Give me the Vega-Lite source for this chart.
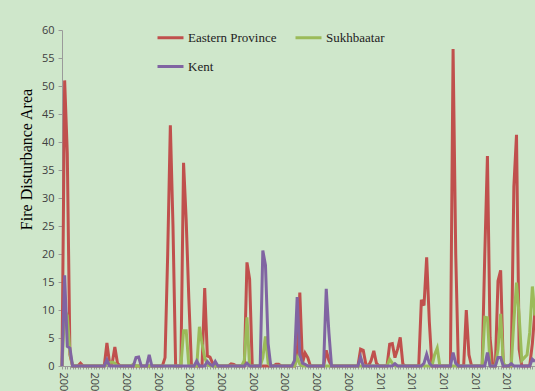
{
"$schema": "https://vega.github.io/schema/vega-lite/v6.json",
"width": 473, "height": 336,
"autosize": {"type": "none"},
"padding": {"left": 62, "top": 30, "right": 0, "bottom": 40},
"background": "#cfe7cb",
"config": {"view": {"stroke": null}},
"datasets": {
"ep": [
{"m":"2000-01","v":0},{"m":"2000-02","v":51},{"m":"2000-03","v":38},{"m":"2000-04","v":2},{"m":"2000-05","v":0},{"m":"2000-06","v":0},{"m":"2000-07","v":0},{"m":"2000-08","v":0.5},{"m":"2000-09","v":0},{"m":"2000-10","v":0},{"m":"2000-11","v":0},{"m":"2000-12","v":0},
{"m":"2001-01","v":0},{"m":"2001-02","v":0},{"m":"2001-03","v":0},{"m":"2001-04","v":0},{"m":"2001-05","v":0},{"m":"2001-06","v":4.1},{"m":"2001-07","v":0.5},{"m":"2001-08","v":0.5},{"m":"2001-09","v":3.4},{"m":"2001-10","v":0.5},{"m":"2001-11","v":0},{"m":"2001-12","v":0},
{"m":"2002-01","v":0},{"m":"2002-02","v":0},{"m":"2002-03","v":0},{"m":"2002-04","v":0},{"m":"2002-05","v":0},{"m":"2002-06","v":0},{"m":"2002-07","v":0},{"m":"2002-08","v":0},{"m":"2002-09","v":0},{"m":"2002-10","v":0},{"m":"2002-11","v":0},{"m":"2002-12","v":0},
{"m":"2003-01","v":0},{"m":"2003-02","v":0},{"m":"2003-03","v":0},{"m":"2003-04","v":1.5},{"m":"2003-05","v":20},{"m":"2003-06","v":43},{"m":"2003-07","v":25},{"m":"2003-08","v":0},{"m":"2003-09","v":0},{"m":"2003-10","v":0},{"m":"2003-11","v":36.3},{"m":"2003-12","v":26},
{"m":"2004-01","v":12},{"m":"2004-02","v":0},{"m":"2004-03","v":0},{"m":"2004-04","v":0},{"m":"2004-05","v":0},{"m":"2004-06","v":0},{"m":"2004-07","v":13.9},{"m":"2004-08","v":1.8},{"m":"2004-09","v":1.6},{"m":"2004-10","v":0.5},{"m":"2004-11","v":0},{"m":"2004-12","v":0},
{"m":"2005-01","v":0},{"m":"2005-02","v":0},{"m":"2005-03","v":0},{"m":"2005-04","v":0},{"m":"2005-05","v":0.4},{"m":"2005-06","v":0.3},{"m":"2005-07","v":0},{"m":"2005-08","v":0},{"m":"2005-09","v":0},{"m":"2005-10","v":0},{"m":"2005-11","v":18.5},{"m":"2005-12","v":15.5},
{"m":"2006-01","v":0},{"m":"2006-02","v":0},{"m":"2006-03","v":0},{"m":"2006-04","v":0},{"m":"2006-05","v":0},{"m":"2006-06","v":0},{"m":"2006-07","v":0},{"m":"2006-08","v":0},{"m":"2006-09","v":0},{"m":"2006-10","v":0.3},{"m":"2006-11","v":0.3},{"m":"2006-12","v":0},
{"m":"2007-01","v":0},{"m":"2007-02","v":0},{"m":"2007-03","v":0},{"m":"2007-04","v":0},{"m":"2007-05","v":0},{"m":"2007-06","v":2},{"m":"2007-07","v":13.1},{"m":"2007-08","v":0.5},{"m":"2007-09","v":2.3},{"m":"2007-10","v":1.5},{"m":"2007-11","v":0},{"m":"2007-12","v":0},
{"m":"2008-01","v":0},{"m":"2008-02","v":0},{"m":"2008-03","v":0},{"m":"2008-04","v":0},{"m":"2008-05","v":2.8},{"m":"2008-06","v":1},{"m":"2008-07","v":0},{"m":"2008-08","v":0},{"m":"2008-09","v":0},{"m":"2008-10","v":0},{"m":"2008-11","v":0},{"m":"2008-12","v":0},
{"m":"2009-01","v":0},{"m":"2009-02","v":0},{"m":"2009-03","v":0},{"m":"2009-04","v":0},{"m":"2009-05","v":0},{"m":"2009-06","v":3},{"m":"2009-07","v":2.8},{"m":"2009-08","v":0.3},{"m":"2009-09","v":0},{"m":"2009-10","v":1},{"m":"2009-11","v":2.7},{"m":"2009-12","v":0.5},
{"m":"2010-01","v":0},{"m":"2010-02","v":0},{"m":"2010-03","v":0},{"m":"2010-04","v":0},{"m":"2010-05","v":3.9},{"m":"2010-06","v":4},{"m":"2010-07","v":1.5},{"m":"2010-08","v":3},{"m":"2010-09","v":5.1},{"m":"2010-10","v":0.3},{"m":"2010-11","v":0},{"m":"2010-12","v":0},
{"m":"2011-01","v":0},{"m":"2011-02","v":0},{"m":"2011-03","v":0},{"m":"2011-04","v":0},{"m":"2011-05","v":11.8},{"m":"2011-06","v":10.8},{"m":"2011-07","v":19.4},{"m":"2011-08","v":8},{"m":"2011-09","v":0},{"m":"2011-10","v":0},{"m":"2011-11","v":0},{"m":"2011-12","v":0},
{"m":"2012-01","v":0},{"m":"2012-02","v":0},{"m":"2012-03","v":0},{"m":"2012-04","v":0},{"m":"2012-05","v":56.6},{"m":"2012-06","v":20},{"m":"2012-07","v":0},{"m":"2012-08","v":0},{"m":"2012-09","v":0},{"m":"2012-10","v":10},{"m":"2012-11","v":2},{"m":"2012-12","v":0},
{"m":"2013-01","v":0},{"m":"2013-02","v":0},{"m":"2013-03","v":0},{"m":"2013-04","v":0},{"m":"2013-05","v":20},{"m":"2013-06","v":37.5},{"m":"2013-07","v":5},{"m":"2013-08","v":0},{"m":"2013-09","v":0},{"m":"2013-10","v":15.2},{"m":"2013-11","v":17.1},{"m":"2013-12","v":0},
{"m":"2014-01","v":0},{"m":"2014-02","v":0},{"m":"2014-03","v":0},{"m":"2014-04","v":32},{"m":"2014-05","v":41.3},{"m":"2014-06","v":3},{"m":"2014-07","v":0},{"m":"2014-08","v":0},{"m":"2014-09","v":0},{"m":"2014-10","v":0},{"m":"2014-11","v":4},{"m":"2014-12","v":10}
],
"sk": [
{"m":"2000-01","v":0},{"m":"2000-02","v":10},{"m":"2000-03","v":9},{"m":"2000-04","v":2.5},{"m":"2000-05","v":0},{"m":"2000-06","v":0},{"m":"2000-07","v":0},{"m":"2000-08","v":0},{"m":"2000-09","v":0},{"m":"2000-10","v":0},{"m":"2000-11","v":0},{"m":"2000-12","v":0},
{"m":"2001-01","v":0},{"m":"2001-02","v":0},{"m":"2001-03","v":0},{"m":"2001-04","v":0},{"m":"2001-05","v":0},{"m":"2001-06","v":0.3},{"m":"2001-07","v":0.6},{"m":"2001-08","v":0.7},{"m":"2001-09","v":0.5},{"m":"2001-10","v":0},{"m":"2001-11","v":0},{"m":"2001-12","v":0},
{"m":"2002-01","v":0},{"m":"2002-02","v":0},{"m":"2002-03","v":0},{"m":"2002-04","v":0.3},{"m":"2002-05","v":0},{"m":"2002-06","v":0},{"m":"2002-07","v":0},{"m":"2002-08","v":0},{"m":"2002-09","v":0},{"m":"2002-10","v":0},{"m":"2002-11","v":0},{"m":"2002-12","v":0},
{"m":"2003-01","v":0},{"m":"2003-02","v":0},{"m":"2003-03","v":0},{"m":"2003-04","v":0},{"m":"2003-05","v":0},{"m":"2003-06","v":0},{"m":"2003-07","v":0},{"m":"2003-08","v":0},{"m":"2003-09","v":0},{"m":"2003-10","v":0},{"m":"2003-11","v":6.3},{"m":"2003-12","v":6.3},
{"m":"2004-01","v":0},{"m":"2004-02","v":0},{"m":"2004-03","v":0},{"m":"2004-04","v":0},{"m":"2004-05","v":7},{"m":"2004-06","v":4},{"m":"2004-07","v":1.5},{"m":"2004-08","v":0.3},{"m":"2004-09","v":0},{"m":"2004-10","v":0},{"m":"2004-11","v":0},{"m":"2004-12","v":0},
{"m":"2005-01","v":0},{"m":"2005-02","v":0},{"m":"2005-03","v":0},{"m":"2005-04","v":0},{"m":"2005-05","v":0},{"m":"2005-06","v":0},{"m":"2005-07","v":0},{"m":"2005-08","v":0},{"m":"2005-09","v":0},{"m":"2005-10","v":1},{"m":"2005-11","v":8.7},{"m":"2005-12","v":0},
{"m":"2006-01","v":0},{"m":"2006-02","v":0},{"m":"2006-03","v":0},{"m":"2006-04","v":0},{"m":"2006-05","v":1.5},{"m":"2006-06","v":5.3},{"m":"2006-07","v":0.5},{"m":"2006-08","v":0},{"m":"2006-09","v":0},{"m":"2006-10","v":0},{"m":"2006-11","v":0},{"m":"2006-12","v":0},
{"m":"2007-01","v":0},{"m":"2007-02","v":0},{"m":"2007-03","v":0},{"m":"2007-04","v":0},{"m":"2007-05","v":0},{"m":"2007-06","v":1.5},{"m":"2007-07","v":0.3},{"m":"2007-08","v":0},{"m":"2007-09","v":0},{"m":"2007-10","v":0},{"m":"2007-11","v":0},{"m":"2007-12","v":0},
{"m":"2008-01","v":0},{"m":"2008-02","v":0},{"m":"2008-03","v":0},{"m":"2008-04","v":0},{"m":"2008-05","v":0},{"m":"2008-06","v":0},{"m":"2008-07","v":0},{"m":"2008-08","v":0},{"m":"2008-09","v":0},{"m":"2008-10","v":0},{"m":"2008-11","v":0},{"m":"2008-12","v":0},
{"m":"2009-01","v":0},{"m":"2009-02","v":0},{"m":"2009-03","v":0},{"m":"2009-04","v":0},{"m":"2009-05","v":0},{"m":"2009-06","v":0},{"m":"2009-07","v":0},{"m":"2009-08","v":0},{"m":"2009-09","v":0},{"m":"2009-10","v":0},{"m":"2009-11","v":0},{"m":"2009-12","v":0},
{"m":"2010-01","v":0},{"m":"2010-02","v":0},{"m":"2010-03","v":0},{"m":"2010-04","v":0},{"m":"2010-05","v":1.2},{"m":"2010-06","v":0.5},{"m":"2010-07","v":0},{"m":"2010-08","v":0},{"m":"2010-09","v":0},{"m":"2010-10","v":0},{"m":"2010-11","v":0},{"m":"2010-12","v":0},
{"m":"2011-01","v":0},{"m":"2011-02","v":0},{"m":"2011-03","v":0},{"m":"2011-04","v":0},{"m":"2011-05","v":0},{"m":"2011-06","v":0},{"m":"2011-07","v":0},{"m":"2011-08","v":0},{"m":"2011-09","v":0},{"m":"2011-10","v":2},{"m":"2011-11","v":3.2},{"m":"2011-12","v":0},
{"m":"2012-01","v":0},{"m":"2012-02","v":0},{"m":"2012-03","v":0},{"m":"2012-04","v":0},{"m":"2012-05","v":0},{"m":"2012-06","v":0},{"m":"2012-07","v":0},{"m":"2012-08","v":0},{"m":"2012-09","v":0},{"m":"2012-10","v":0},{"m":"2012-11","v":0},{"m":"2012-12","v":0},
{"m":"2013-01","v":0},{"m":"2013-02","v":0},{"m":"2013-03","v":0},{"m":"2013-04","v":0},{"m":"2013-05","v":8.7},{"m":"2013-06","v":8.6},{"m":"2013-07","v":0},{"m":"2013-08","v":0},{"m":"2013-09","v":0},{"m":"2013-10","v":3},{"m":"2013-11","v":9.3},{"m":"2013-12","v":0.5},
{"m":"2014-01","v":0},{"m":"2014-02","v":0},{"m":"2014-03","v":0},{"m":"2014-04","v":8},{"m":"2014-05","v":14.9},{"m":"2014-06","v":9},{"m":"2014-07","v":1},{"m":"2014-08","v":1.5},{"m":"2014-09","v":2},{"m":"2014-10","v":6},{"m":"2014-11","v":14.2},{"m":"2014-12","v":9}
],
"ke": [
{"m":"2000-01","v":0},{"m":"2000-02","v":16.2},{"m":"2000-03","v":3.5},{"m":"2000-04","v":3.2},{"m":"2000-05","v":0},{"m":"2000-06","v":0},{"m":"2000-07","v":0},{"m":"2000-08","v":0},{"m":"2000-09","v":0},{"m":"2000-10","v":0},{"m":"2000-11","v":0},{"m":"2000-12","v":0},
{"m":"2001-01","v":0},{"m":"2001-02","v":0},{"m":"2001-03","v":0},{"m":"2001-04","v":0},{"m":"2001-05","v":0},{"m":"2001-06","v":1.1},{"m":"2001-07","v":0},{"m":"2001-08","v":0},{"m":"2001-09","v":0},{"m":"2001-10","v":0},{"m":"2001-11","v":0},{"m":"2001-12","v":0},
{"m":"2002-01","v":0},{"m":"2002-02","v":0},{"m":"2002-03","v":0},{"m":"2002-04","v":0},{"m":"2002-05","v":1.5},{"m":"2002-06","v":1.6},{"m":"2002-07","v":0},{"m":"2002-08","v":0},{"m":"2002-09","v":0},{"m":"2002-10","v":2},{"m":"2002-11","v":0},{"m":"2002-12","v":0},
{"m":"2003-01","v":0},{"m":"2003-02","v":0},{"m":"2003-03","v":0},{"m":"2003-04","v":0},{"m":"2003-05","v":0},{"m":"2003-06","v":0},{"m":"2003-07","v":0},{"m":"2003-08","v":0},{"m":"2003-09","v":0},{"m":"2003-10","v":0},{"m":"2003-11","v":0},{"m":"2003-12","v":0},
{"m":"2004-01","v":0},{"m":"2004-02","v":0},{"m":"2004-03","v":0},{"m":"2004-04","v":0.9},{"m":"2004-05","v":0},{"m":"2004-06","v":0},{"m":"2004-07","v":0},{"m":"2004-08","v":0.8},{"m":"2004-09","v":0.3},{"m":"2004-10","v":0},{"m":"2004-11","v":0.8},{"m":"2004-12","v":0},
{"m":"2005-01","v":0},{"m":"2005-02","v":0},{"m":"2005-03","v":0},{"m":"2005-04","v":0},{"m":"2005-05","v":0},{"m":"2005-06","v":0},{"m":"2005-07","v":0},{"m":"2005-08","v":0},{"m":"2005-09","v":0},{"m":"2005-10","v":0},{"m":"2005-11","v":0.5},{"m":"2005-12","v":0},
{"m":"2006-01","v":0},{"m":"2006-02","v":0},{"m":"2006-03","v":0},{"m":"2006-04","v":0},{"m":"2006-05","v":20.6},{"m":"2006-06","v":18},{"m":"2006-07","v":4},{"m":"2006-08","v":0},{"m":"2006-09","v":0},{"m":"2006-10","v":0},{"m":"2006-11","v":0},{"m":"2006-12","v":0},
{"m":"2007-01","v":0},{"m":"2007-02","v":0},{"m":"2007-03","v":0},{"m":"2007-04","v":0},{"m":"2007-05","v":1},{"m":"2007-06","v":12.3},{"m":"2007-07","v":2},{"m":"2007-08","v":0.5},{"m":"2007-09","v":0.3},{"m":"2007-10","v":0},{"m":"2007-11","v":0},{"m":"2007-12","v":0},
{"m":"2008-01","v":0},{"m":"2008-02","v":0},{"m":"2008-03","v":0},{"m":"2008-04","v":0},{"m":"2008-05","v":13.8},{"m":"2008-06","v":6},{"m":"2008-07","v":0},{"m":"2008-08","v":0},{"m":"2008-09","v":0},{"m":"2008-10","v":0},{"m":"2008-11","v":0},{"m":"2008-12","v":0},
{"m":"2009-01","v":0},{"m":"2009-02","v":0},{"m":"2009-03","v":0},{"m":"2009-04","v":0},{"m":"2009-05","v":0},{"m":"2009-06","v":1.6},{"m":"2009-07","v":0},{"m":"2009-08","v":0},{"m":"2009-09","v":0},{"m":"2009-10","v":0},{"m":"2009-11","v":0},{"m":"2009-12","v":0},
{"m":"2010-01","v":0},{"m":"2010-02","v":0},{"m":"2010-03","v":0},{"m":"2010-04","v":0},{"m":"2010-05","v":0},{"m":"2010-06","v":0},{"m":"2010-07","v":0.4},{"m":"2010-08","v":0},{"m":"2010-09","v":0},{"m":"2010-10","v":0},{"m":"2010-11","v":0},{"m":"2010-12","v":0},
{"m":"2011-01","v":0},{"m":"2011-02","v":0},{"m":"2011-03","v":0},{"m":"2011-04","v":0},{"m":"2011-05","v":0},{"m":"2011-06","v":0.5},{"m":"2011-07","v":2.1},{"m":"2011-08","v":0.5},{"m":"2011-09","v":0},{"m":"2011-10","v":0},{"m":"2011-11","v":0},{"m":"2011-12","v":0},
{"m":"2012-01","v":0},{"m":"2012-02","v":0},{"m":"2012-03","v":0},{"m":"2012-04","v":0},{"m":"2012-05","v":2.4},{"m":"2012-06","v":0.5},{"m":"2012-07","v":0},{"m":"2012-08","v":0},{"m":"2012-09","v":0},{"m":"2012-10","v":0},{"m":"2012-11","v":0},{"m":"2012-12","v":0},
{"m":"2013-01","v":0},{"m":"2013-02","v":0},{"m":"2013-03","v":0},{"m":"2013-04","v":0},{"m":"2013-05","v":0},{"m":"2013-06","v":2.4},{"m":"2013-07","v":0},{"m":"2013-08","v":0},{"m":"2013-09","v":0},{"m":"2013-10","v":1.5},{"m":"2013-11","v":1.5},{"m":"2013-12","v":0},
{"m":"2014-01","v":0},{"m":"2014-02","v":0},{"m":"2014-03","v":0.4},{"m":"2014-04","v":0},{"m":"2014-05","v":0},{"m":"2014-06","v":0},{"m":"2014-07","v":0},{"m":"2014-08","v":0},{"m":"2014-09","v":0},{"m":"2014-10","v":0},{"m":"2014-11","v":1.2},{"m":"2014-12","v":0.8}
]
},
"encoding": {
  "x": {"field": "m", "type": "ordinal", "scale": {"type": "point", "padding": 0},
        "axis": {"title": null, "labelExpr": "slice(datum.value, 5) == '01' ? slice(datum.value, 0, 4) : ''",
                 "labelAngle": 90, "labelAlign": "left", "labelBaseline": "middle", "labelPadding": 3,
                 "labelFont": "Open Sans", "labelFontSize": 11, "labelColor": "#404040", "labelOverlap": false,
                 "tickColor": "#9a9a9a", "tickSize": 3, "domainColor": "#9a9a9a", "grid": false}},
  "y": {"field": "v", "type": "quantitative", "scale": {"domain": [0, 60], "nice": false},
        "axis": {"values": [0,5,10,15,20,25,30,35,40,45,50,55,60], "grid": false,
                 "labelFont": "Open Sans", "labelFontSize": 11, "labelColor": "#404040", "labelPadding": 4,
                 "tickColor": "#9a9a9a", "tickSize": 4, "domainColor": "#9a9a9a",
                 "title": "Fire Disturbance Area", "titleFont": "Liberation Serif", "titleFontSize": 16,
                 "titleFontWeight": "normal", "titleColor": "#000000", "titleAngle": -90,
                 "titleAlign": "center", "titleBaseline": "middle", "titleX": -36, "titleY": 129}}
},
"layer": [
  {"data": {"name": "ep"}, "mark": {"type": "line", "strokeWidth": 3},
   "encoding": {"color": {"datum": "Eastern Province", "type": "nominal",
     "scale": {"domain": ["Eastern Province", "Sukhbaatar", "Kent"], "range": ["#c0504d", "#9bbb59", "#8064a2"]},
     "legend": {"orient": "none", "legendX": 94, "legendY": -7, "direction": "horizontal", "columns": 2,
                "symbolType": "stroke", "symbolSize": 676, "symbolStrokeWidth": 3, "title": null, "padding": 0,
                "labelFont": "Liberation Serif", "labelFontSize": 13, "labelColor": "#222222", "labelOffset": 3,
                "columnPadding": 12, "rowPadding": 7}}}},
  {"data": {"name": "sk"}, "mark": {"type": "line", "strokeWidth": 3},
   "encoding": {"color": {"datum": "Sukhbaatar", "type": "nominal"}}},
  {"data": {"name": "ke"}, "mark": {"type": "line", "strokeWidth": 3},
   "encoding": {"color": {"datum": "Kent", "type": "nominal"}}}
]
}
